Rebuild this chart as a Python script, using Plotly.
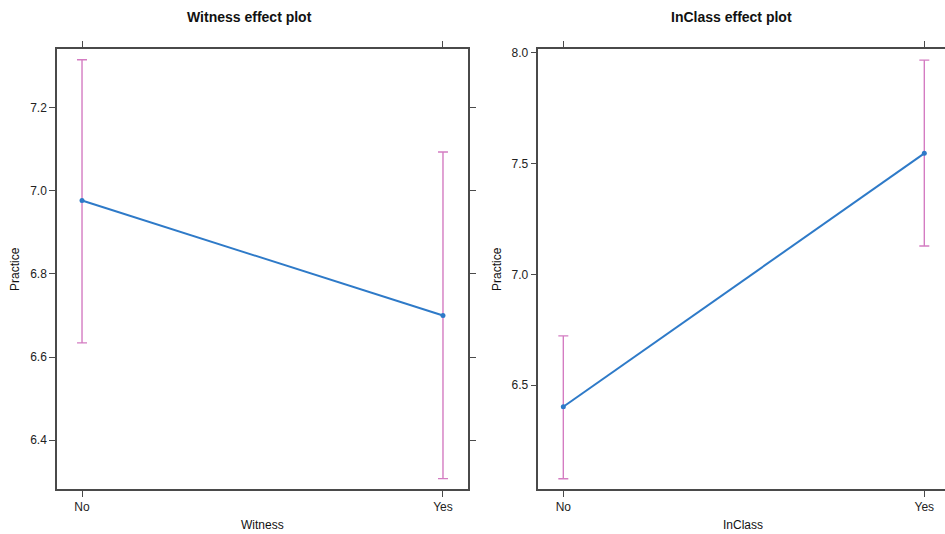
import plotly.graph_objects as go

categories = ["No", "Yes"]
witness_fit = [6.977, 6.700]
witness_lower = [6.634, 6.307]
witness_upper = [7.316, 7.094]
inclass_fit = [6.402, 7.546]
inclass_lower = [6.077, 7.128]
inclass_upper = [6.722, 7.967]

witness_yticks = [6.4, 6.6, 6.8, 7.0, 7.2]
inclass_yticks = [6.5, 7.0, 7.5, 8.0]

LINE = "#2E7AC8"
BAR = "#D47CC2"
AX = "#4a4a4a"
FONT = "Liberation Sans, Arial, sans-serif"

xpos = list(range(len(categories)))

fig = go.Figure()

def add_panel(fit, lo, hi, xa, ya):
    fig.add_trace(go.Scatter(
        x=xpos, y=fit, xaxis=xa, yaxis=ya, mode="lines+markers",
        line=dict(color=LINE, width=2),
        marker=dict(color=LINE, size=5, symbol="circle"),
        error_y=dict(type="data", symmetric=False,
                     array=[h - f for h, f in zip(hi, fit)],
                     arrayminus=[f - l for f, l in zip(fit, lo)],
                     color=BAR, thickness=1.4, width=5),
        showlegend=False, hoverinfo="skip"))

add_panel(witness_fit, witness_lower, witness_upper, "x", "y")
add_panel(inclass_fit, inclass_lower, inclass_upper, "x2", "y2")

W, H = 945, 534
ml, mr, mt, mb = 57, 0, 49, 45
pw = W - ml - mr
d1 = [0, (468 - ml) / pw]
d2 = [(538.3 - ml) / pw, 1]

common_x = dict(tickvals=xpos, ticktext=categories, showgrid=False, zeroline=False,
                showline=True, linecolor=AX, linewidth=1.5, ticks="outside",
                ticklen=6, tickcolor=AX, mirror="ticks",
                tickfont=dict(family=FONT, size=12, color="#222"))
common_y = dict(showgrid=False, zeroline=False, showline=True, linecolor=AX,
                linewidth=1.5, ticks="outside", ticklen=6, tickcolor=AX,
                tickfont=dict(family=FONT, size=12, color="#222"), tickformat=".1f")

fig.update_layout(
    width=W, height=H, margin=dict(l=ml, r=mr, t=mt, b=mb),
    plot_bgcolor="white", paper_bgcolor="white",
    xaxis=dict(domain=d1, range=[-0.0693, 1.0693], anchor="y", **common_x),
    yaxis=dict(domain=[0, 1], range=[6.282, 7.342], tickvals=witness_yticks,
               anchor="x", mirror="ticks", **common_y),
    xaxis2=dict(domain=d2, range=[-0.0693, 1.0573], anchor="y2", **common_x),
    yaxis2=dict(domain=[0, 1], range=[6.031, 8.017], tickvals=inclass_yticks,
                anchor="x2", mirror=False, **common_y),
)

def px(x):
    return (x - ml) / pw

def py(y):
    return (H - mb - y) / (H - mt - mb)

ann = [
    ("<b>Witness effect plot</b>", 249, 17, 14, 0),
    ("<b>InClass effect plot</b>", 731, 17, 14, 0),
    ("Witness", 262, 525, 12, 0),
    ("InClass", 743, 525, 12, 0),
    ("Practice", 15, 269, 12, -90),
    ("Practice", 497, 269, 12, -90),
]
for t, x, y, s, a in ann:
    fig.add_annotation(text=t, x=px(x), y=py(y), xref="paper", yref="paper",
                       showarrow=False, textangle=a, xanchor="center", yanchor="middle",
                       font=dict(family=FONT, size=s, color="#111"))

fig.write_html("out.html", config={"displayModeBar": False},
               post_script="document.body.style.margin='0';document.body.style.overflow='hidden';")
